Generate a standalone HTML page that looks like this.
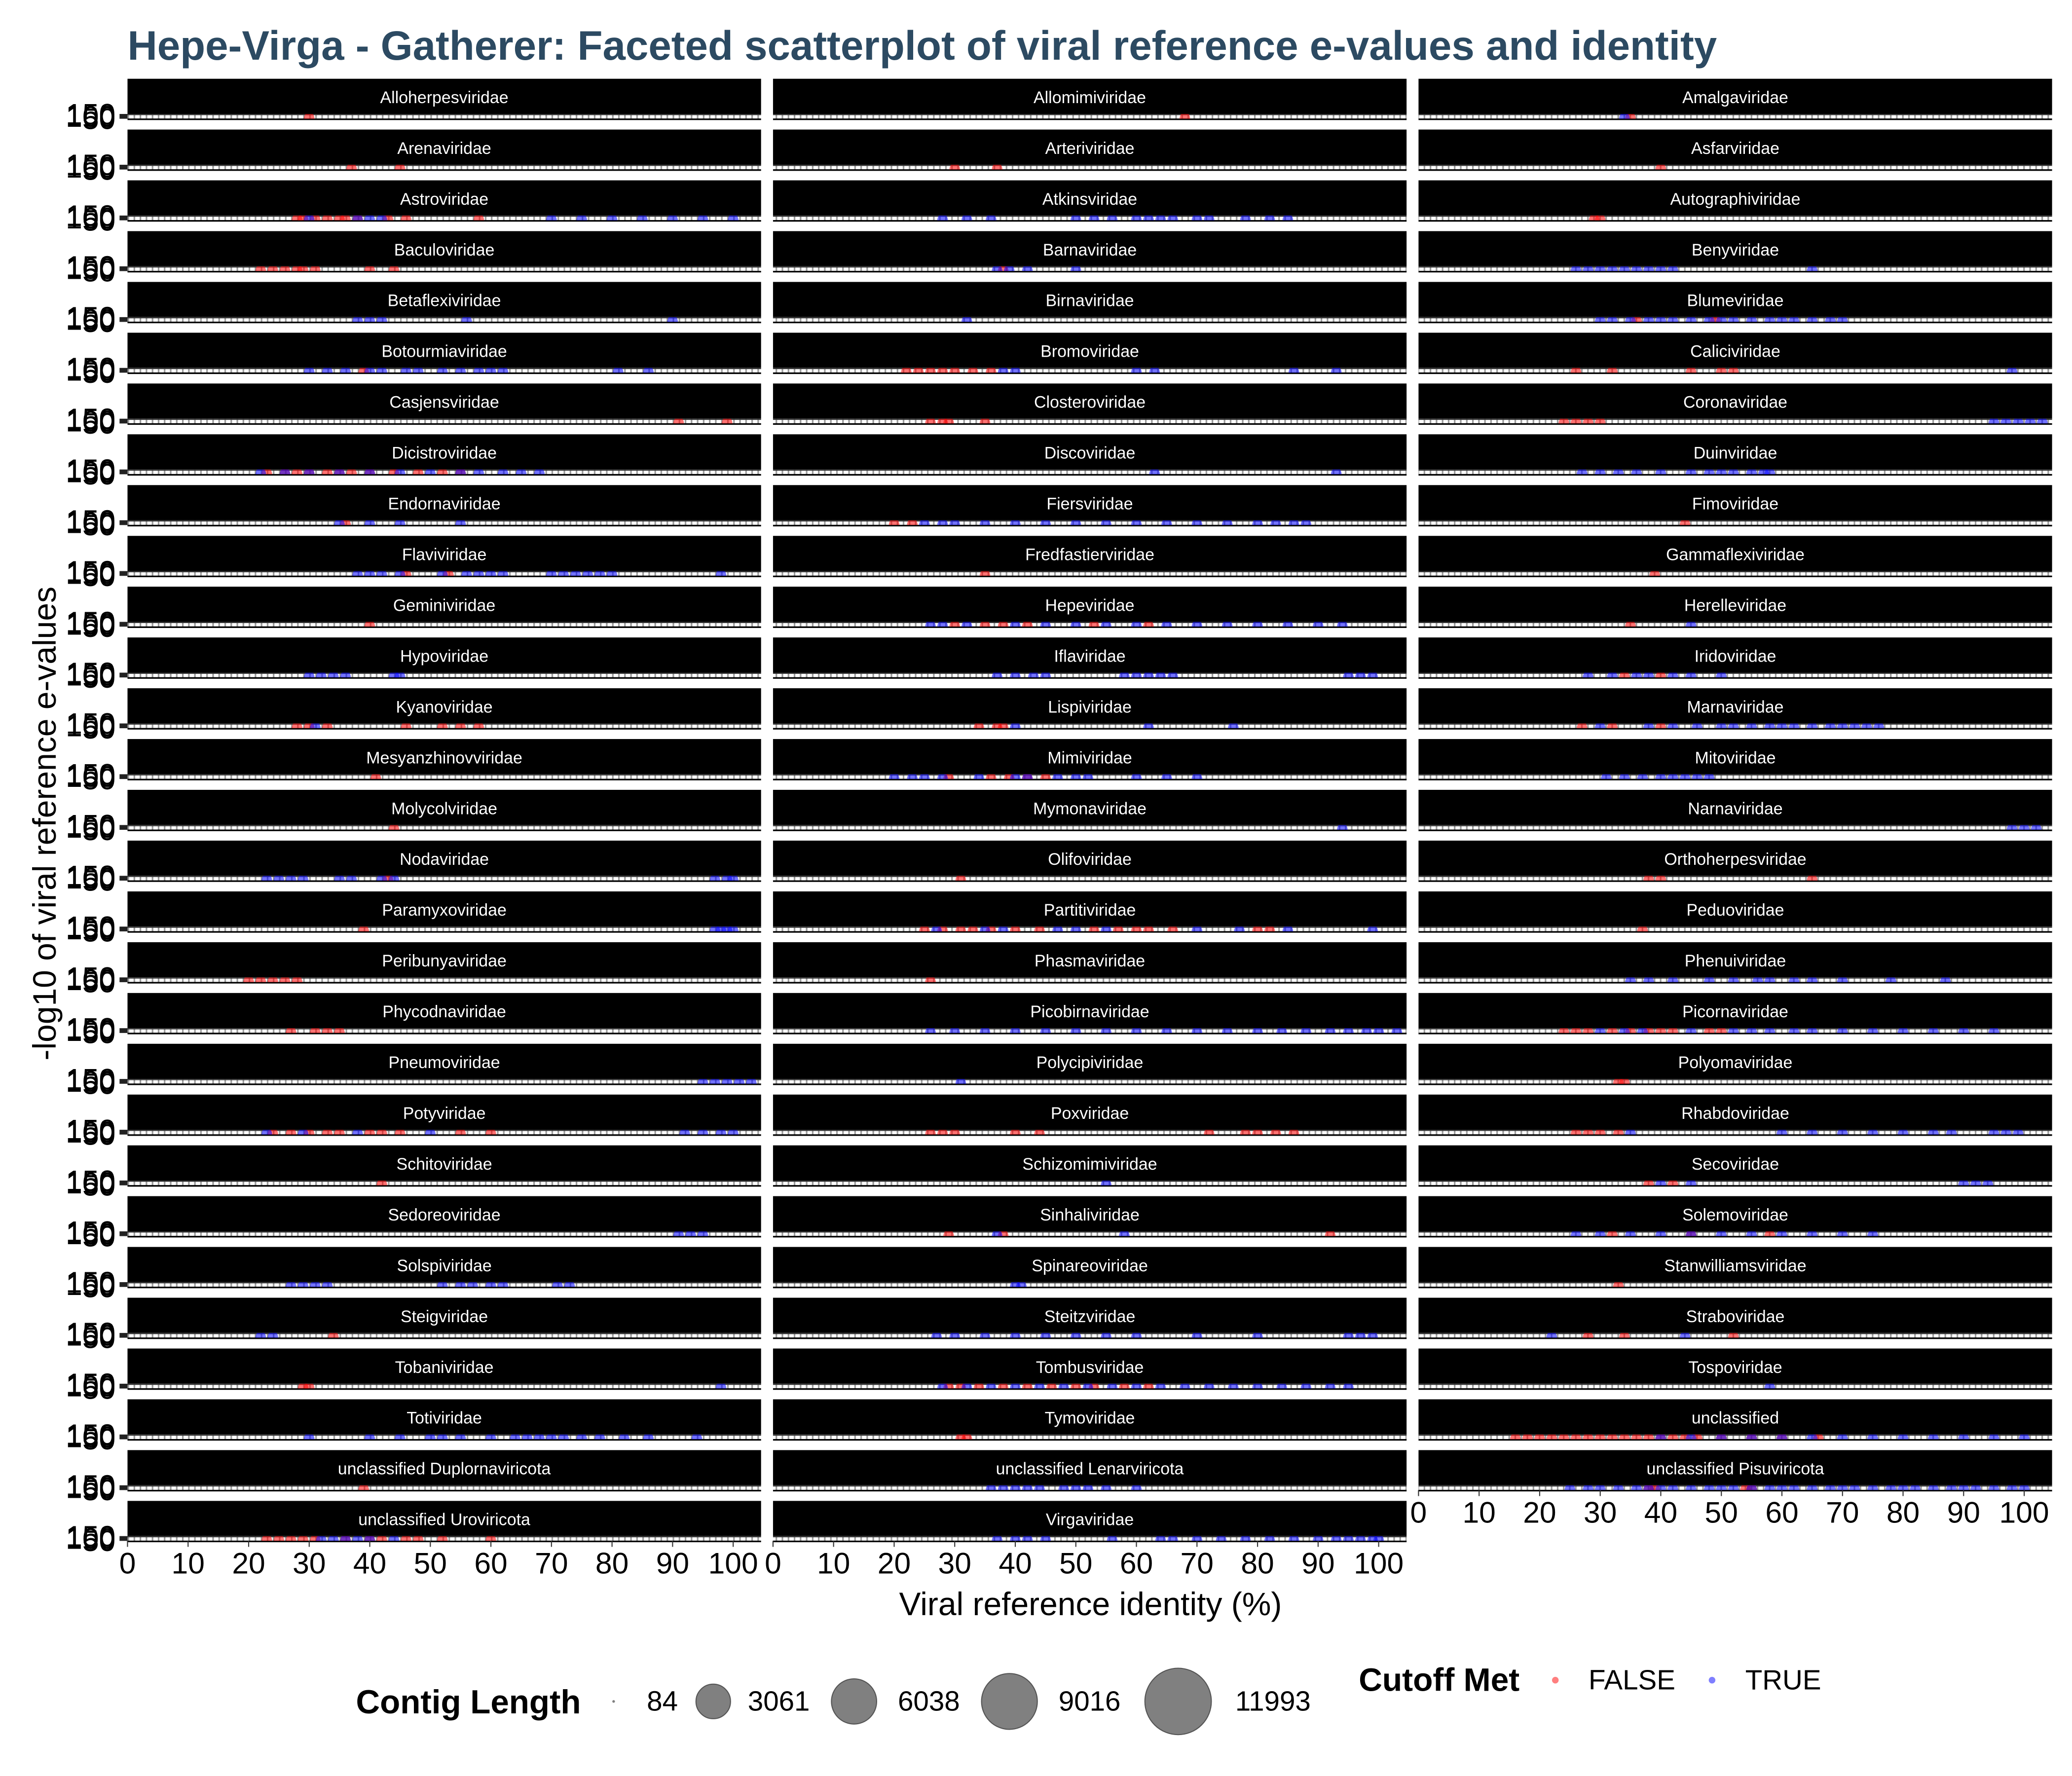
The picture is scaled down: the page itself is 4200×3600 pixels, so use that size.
<!DOCTYPE html>
<html><head><meta charset="utf-8"><style>
html,body{margin:0;padding:0;background:#fff;}
svg{display:block;font-family:"Liberation Sans",Arial,sans-serif;}
</style></head><body>
<svg id="chart" width="4200" height="3600" viewBox="0 0 1560 1337.14" xmlns="http://www.w3.org/2000/svg">
<defs>
<pattern id="grid" x="96" y="0" width="4.56" height="10" patternUnits="userSpaceOnUse">
<rect x="0" y="0" width="4.56" height="10" fill="#ffffff"/>
<rect x="0" y="0" width="1.2" height="10" fill="#9a9a9a"/>
</pattern>
</defs>
<text x="96" y="45" font-size="31" font-weight="bold" fill="#2C4A62">Hepe-Virga - Gatherer: Faceted scatterplot of viral reference e-values and identity</text>
<g id="facets"></g>
<text x="821" y="1216" font-size="24.5" text-anchor="middle" fill="#000">Viral reference identity (%)</text>
<text transform="translate(42,620) rotate(-90)" font-size="24.5" text-anchor="middle" fill="#000">-log10 of viral reference e-values</text>
<g>
<text x="268" y="1290" font-size="25" font-weight="bold">Contig Length</text>
<circle cx="462" cy="1281" r="1" fill="#000" fill-opacity="0.5"/>
<text x="487" y="1288" font-size="21">84</text>
<circle cx="537" cy="1281" r="13" fill="#808080" stroke="#555" stroke-width="0.8"/>
<text x="563" y="1288" font-size="21">3061</text>
<circle cx="643" cy="1281" r="17" fill="#808080" stroke="#555" stroke-width="0.8"/>
<text x="676" y="1288" font-size="21">6038</text>
<circle cx="760" cy="1281" r="21" fill="#808080" stroke="#555" stroke-width="0.8"/>
<text x="797" y="1288" font-size="21">9016</text>
<circle cx="887" cy="1281" r="25" fill="#808080" stroke="#555" stroke-width="0.8"/>
<text x="930" y="1288" font-size="21">11993</text>
</g>
<g>
<text x="1023" y="1273" font-size="24.5" font-weight="bold">Cutoff Met</text>
<circle cx="1171" cy="1265" r="2.5" fill="#ff0000" fill-opacity="0.5"/>
<text x="1196" y="1272" font-size="21">FALSE</text>
<circle cx="1289" cy="1265" r="2.5" fill="#0000ff" fill-opacity="0.5"/>
<text x="1314" y="1272" font-size="21">TRUE</text>
</g>
</svg>
<script>
const facetNames = ["Alloherpesviridae","Arenaviridae","Astroviridae","Baculoviridae","Betaflexiviridae","Botourmiaviridae","Casjensviridae","Dicistroviridae","Endornaviridae","Flaviviridae","Geminiviridae","Hypoviridae","Kyanoviridae","Mesyanzhinovviridae","Molycolviridae","Nodaviridae","Paramyxoviridae","Peribunyaviridae","Phycodnaviridae","Pneumoviridae","Potyviridae","Schitoviridae","Sedoreoviridae","Solspiviridae","Steigviridae","Tobaniviridae","Totiviridae","unclassified Duplornaviricota","unclassified Uroviricota",
"Allomimiviridae","Arteriviridae","Atkinsviridae","Barnaviridae","Birnaviridae","Bromoviridae","Closteroviridae","Discoviridae","Fiersviridae","Fredfastierviridae","Hepeviridae","Iflaviridae","Lispiviridae","Mimiviridae","Mymonaviridae","Olifoviridae","Partitiviridae","Phasmaviridae","Picobirnaviridae","Polycipiviridae","Poxviridae","Schizomimiviridae","Sinhaliviridae","Spinareoviridae","Steitzviridae","Tombusviridae","Tymoviridae","unclassified Lenarviricota","Virgaviridae",
"Amalgaviridae","Asfarviridae","Autographiviridae","Benyviridae","Blumeviridae","Caliciviridae","Coronaviridae","Duinviridae","Fimoviridae","Gammaflexiviridae","Herelleviridae","Iridoviridae","Marnaviridae","Mitoviridae","Narnaviridae","Orthoherpesviridae","Peduoviridae","Phenuiviridae","Picornaviridae","Polyomaviridae","Rhabdoviridae","Secoviridae","Solemoviridae","Stanwilliamsviridae","Straboviridae","Tospoviridae","unclassified","unclassified Pisuviricota"];
const falseIdentity = [[30],[37,45],[28,29,31,33,35,36,38,43,46,58],[22,24,26,28,29,31,40,44],[],[39],[91,99],[23,26,28,30,33,35,37,40,44,48,52,55],[36],[46,53],[40],[],[28,30,33,46,52,55,58],[41],[44],[43],[39],[20,22,24,26,28],[27,31,33,35],[],[24,27,30,33,35,40,42,45,55,60],[42],[],[],[34],[29,30],[],[39],[23,25,27,29,31,36,40,42,46,48,52,60],
[68],[30,37],[],[38],[],[22,24,26,28,30,33,36],[26,28,29,35],[],[20,23],[35],[30,35,38,42,53,62],[],[34,37,38],[29,36,39,42,45],[],[31],[25,28,31,33,36,40,44,53,57,60,62,66,80,82],[26],[],[],[26,28,30,40,44,72,78,80,83,86],[],[29,38,92],[],[],[29,31,34,38,42,46,50,53,58,62],[31,32],[],[],
[35],[40],[29,30],[],[36,49],[26,32,45,50,52],[24,26,28,30],[],[44],[39],[35],[34,40],[27,32,40],[],[],[38,40,65],[37],[],[24,26,28,32,35,38,40,42,48,50],[33,34],[26,28,30,33],[38,42],[32,45,58],[33],[28,34,52],[],[16,18,20,22,24,26,28,30,32,34,36,38,40,42,44,46,50,55,60,66],[38,39,54,55]];
const trueIdentity = [[],[],[30,38,40,42,70,75,80,85,90,95,100],[],[38,40,42,56,90],[30,33,36,40,42,46,48,52,55,58,60,62,81,86],[],[22,26,30,35,40,45,50,55,58,62,65,68],[35,40,45,55],[38,40,42,45,52,56,58,60,62,70,72,74,76,78,80,98],[],[30,32,34,36,44,45],[31],[],[],[23,25,27,29,35,37,42,44,97,99,100],[97,98,99,100],[],[],[95,97,99,101,103],[23,29,38,50,92,95,98,100],[],[91,93,95],[27,29,31,33,52,55,57,60,62,71,73],[22,24],[98],[30,40,45,50,52,55,60,64,66,68,70,72,75,78,82,86,94],[],[32,34,36,38,40,44],
[],[],[28,32,36,50,53,56,60,62,64,66,70,72,78,82,85],[37,39,42,50],[32],[38,40,60,63,86,93],[],[63,93],[25,28,30,35,40,45,50,55,60,65,70,75,80,83,86,88],[],[26,28,32,40,45,50,55,60,65,70,75,80,85,90,94],[37,40,43,45,58,60,62,64,66,95,97,99],[40,62,76],[20,23,25,28,34,40,42,47,50,52,60,65,70],[94],[],[27,35,38,47,50,55,70,77,85,99],[],[26,30,35,40,45,50,55,60,65,70,75,80,84,88,92,95,98,100,103],[31],[],[55],[37,58],[40,41],[27,30,35,40,45,50,55,60,70,80,95,97,99],[28,32,36,40,44,48,52,56,60,64,68,72,76,80,84,88,92,95],[],[36,38,40,42,44,48,50,52,55,60],[37,40,42,45,56,64,66,70,74,78,82,86,90,93,95,97,99,100],
[34],[],[],[26,28,30,32,34,36,38,40,42,65],[30,32,35,38,40,42,45,48,50,52,55,58,60,62,65,68,70],[98],[95,97,99,101,103],[27,30,33,36,40,45,48,50,52,55,57,58],[],[],[45],[28,32,36,38,42,45,50],[30,38,42,46,50,52,55,58,60,62,65,68,70,72,74,76],[31,34,37,40,42,44,46,48],[98,100,102],[],[],[35,38,42,48,52,56,58,62,65,70,78,87],[30,34,37,45,52,55,58,62,65,70,75,80,85,90,95],[],[35,60,65,70,75,80,85,88,95,97,99],[40,45,90,92,94],[26,30,35,40,45,50,55,60,65,70,75],[],[22,44],[58],[40,45,50,55,60,65,70,75,80,85,90,95,100],[25,28,30,33,36,38,40,42,45,48,50,52,55,58,60,62,65,68,70,72,75,78,80,82,85,88,90,92,95,98,100]];
const xTicks = [0,10,20,30,40,50,60,70,80,90,100];
const yTickLabels = ["50","100","150"];

const NS = "http://www.w3.org/2000/svg";
const colX = [96, 582, 1068];
const panelW = 477;
const pxPerUnit = 4.56;
const rowTop0 = 59.3, pitch = 38.24, stripH = 26.5, panelH = 3.6;
const colCounts = [29, 29, 28];
const root = document.getElementById('facets');
function xScale(col, v){ return colX[col] + v * pxPerUnit; }
function mk(tag, attrs){ const e = document.createElementNS(NS, tag); for (const k in attrs) e.setAttribute(k, attrs[k]); return e; }

let idx = 0;
for (let c = 0; c < 3; c++) {
  for (let r = 0; r < colCounts[c]; r++, idx++) {
    const top = rowTop0 + r * pitch;
    const g = mk('g', {});
    
    
    const strip = mk('rect', {x: colX[c], y: top, width: panelW, height: stripH, fill: '#000'});
    
    
    g.appendChild(strip);
    const lab = mk('text', {x: colX[c] + panelW / 2, y: top + 18.3, 'font-size': 12.6, fill: '#fff', 'text-anchor': 'middle'});
    lab.textContent = facetNames[idx];
    
    
    g.appendChild(lab);
    const py = top + stripH;
    const panel = mk('rect', {x: colX[c], y: py, width: panelW, height: panelH, fill: 'url(#grid)'});
    
    
    g.appendChild(panel);
    g.appendChild(mk('rect', {x: colX[c], y: py, width: panelW, height: 0.9, fill: '#333'}));
    g.appendChild(mk('rect', {x: colX[c], y: py + panelH - 0.2, width: panelW, height: 1.2, fill: '#000'}));
    const cid = 'clip' + idx;
    const cp = mk('clipPath', {id: cid});
    cp.appendChild(mk('rect', {x: colX[c], y: py, width: panelW, height: panelH}));
    g.appendChild(cp);
    const pts = mk('g', {'clip-path': 'url(#' + cid + ')'});
    falseIdentity[idx].forEach(v => {
      const p = mk('ellipse', {cx: xScale(c, v), cy: py + panelH, rx: 4, ry: 5, fill: '#ff0000', 'fill-opacity': 0.55});
      
      
      pts.appendChild(p);
    });
    trueIdentity[idx].forEach(v => {
      const p = mk('ellipse', {cx: xScale(c, v), cy: py + panelH, rx: 4, ry: 5, fill: '#0000ff', 'fill-opacity': 0.55});
      
      
      pts.appendChild(p);
    });
    g.appendChild(pts);
    if (c === 0) {
      yTickLabels.forEach((t, i) => {
        const yt = mk('text', {x: 87, y: py + panelH / 2 + 9.5 - i * 1.7, 'font-size': 22.5, 'text-anchor': 'end', fill: '#000'});
        yt.textContent = t;
        
        
        g.appendChild(yt);
      });
      g.appendChild(mk('rect', {x: 90, y: py, width: 6, height: panelH, fill: '#222'}));
    }
    if (r === colCounts[c] - 1) {
      const by = py + panelH;
      xTicks.forEach(t => {
        g.appendChild(mk('line', {x1: xScale(c, t), x2: xScale(c, t), y1: by, y2: by + 4.5, stroke: '#333', 'stroke-width': 0.8}));
        const xt = mk('text', {x: xScale(c, t), y: by + 24.5, 'font-size': 22.5, 'text-anchor': 'middle', fill: '#000'});
        xt.textContent = t;
        
        
        g.appendChild(xt);
      });
    }
    root.appendChild(g);
  }
}
</script>
</body></html>
